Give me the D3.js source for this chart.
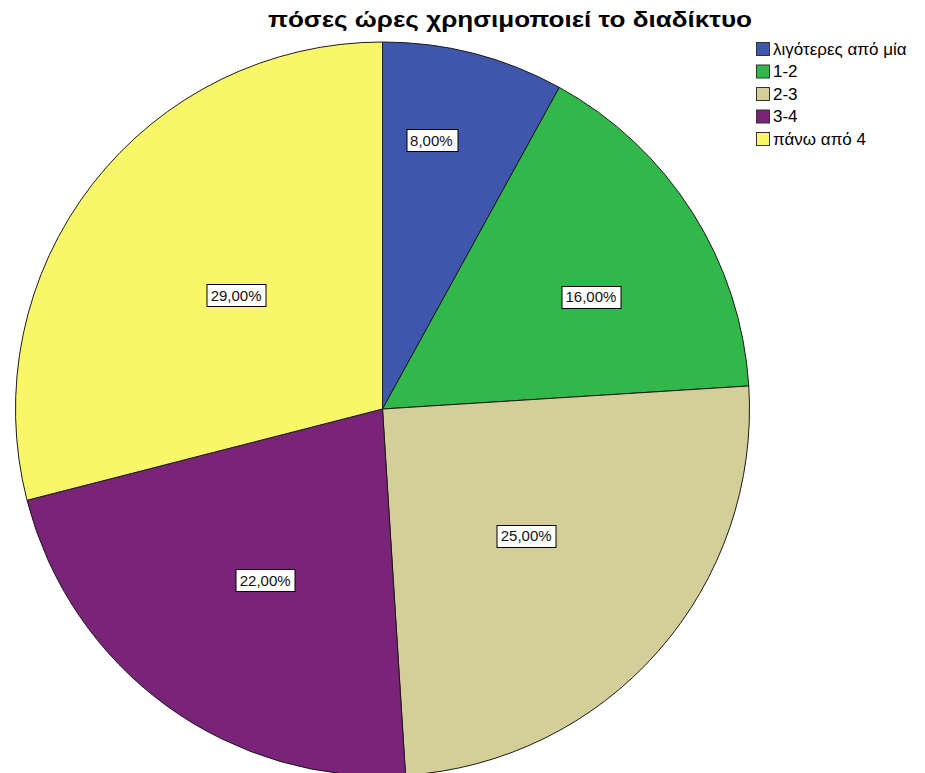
<!DOCTYPE html>
<html><head><meta charset="utf-8">
<script src="https://cdn.jsdelivr.net/npm/d3@7"></script>
<style>body{margin:0;background:#fff}svg{display:block}</style>
</head><body>
<svg id="c" width="925" height="773"></svg>
<script>
const categories = ["λιγότερες από μία", "1-2", "2-3", "3-4", "πάνω από 4"];
const values = [8, 16, 25, 22, 29];
const labels = ["8,00%", "16,00%", "25,00%", "22,00%", "29,00%"];
const colors = ["#3E57AD", "#32B84A", "#D4CF98", "#792478", "#FAF66A"];
const labelRadiusFrac = [0.745, 0.645, 0.522, 0.566, 0.505];
const labelAngleShift = [-4.1, 4.1, 0, -1.6, 0];
const title = "πόσες ώρες χρησιμοποιεί το διαδίκτυο";

const svg = d3.select("#c");
const cx = 382.5, cy = 409, r = 367;
const font = "'Liberation Sans', Arial, sans-serif";

svg.append("text").attr("x", 510).attr("y", 27).attr("text-anchor", "middle")
  .attr("font-family", font).attr("font-weight", "bold").attr("font-size", 22)
  .attr("textLength", 484).attr("lengthAdjust", "spacingAndGlyphs")
  .attr("fill", "#000").text(title);

const pie = d3.pie().sort(null).value(d => d)(values);
const arc = d3.arc().innerRadius(0).outerRadius(r);
const g = svg.append("g").attr("transform", `translate(${cx},${cy})`);
g.selectAll("path").data(pie).join("path")
  .attr("d", arc).attr("fill", (d, i) => colors[i])
  .attr("stroke", "#1a1a1a").attr("stroke-width", 1);

pie.forEach((d, i) => {
  const a = (d.startAngle + d.endAngle) / 2 + labelAngleShift[i] * Math.PI / 180;
  const lr = r * labelRadiusFrac[i];
  const x = Math.sin(a) * lr, y = -Math.cos(a) * lr;
  const t = g.append("text").attr("x", x).attr("y", y + 5.5).attr("text-anchor", "middle")
    .attr("font-family", font).attr("font-size", 15).attr("fill", "#111").text(labels[i]);
  const b = t.node().getBBox();
  g.insert("rect", () => t.node()).attr("x", Math.round(b.x - 4) + 0.5).attr("y", Math.round(y - 11) + 0.5)
    .attr("width", Math.round(b.width + 8)).attr("height", 22)
    .attr("fill", "#fff").attr("stroke", "#000").attr("stroke-width", 1);
});

const lg = svg.append("g").attr("transform", "translate(756,42)");
categories.forEach((c, i) => {
  lg.append("rect").attr("x", 0.5).attr("y", i * 22.5 + 0.5).attr("width", 13).attr("height", 13)
    .attr("fill", colors[i]).attr("stroke", "#333").attr("stroke-width", 1);
  lg.append("text").attr("x", 17).attr("y", i * 22.5 + 12.5).attr("font-family", font).attr("font-size", 17)
    .attr("fill", "#000").text(c);
});
</script>
</body></html>
